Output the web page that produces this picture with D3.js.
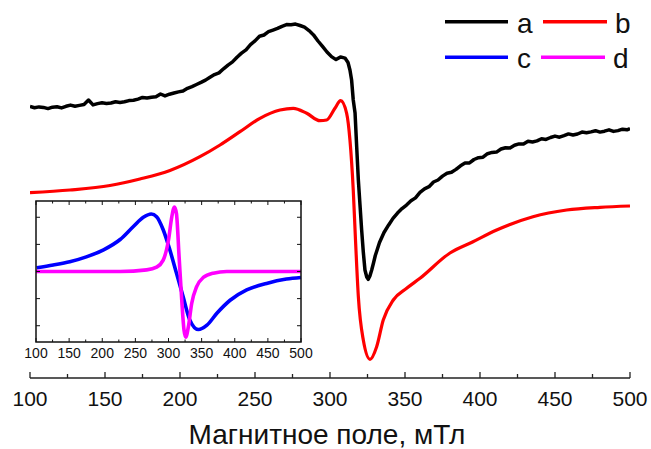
<!DOCTYPE html>
<html>
<head>
<meta charset="utf-8">
<script src="https://cdn.jsdelivr.net/npm/d3@7/dist/d3.min.js"></script>
<style>
  html, body { margin: 0; padding: 0; background: #fff; }
  svg { display: block; font-family: "Liberation Sans", Arial, sans-serif; }
</style>
</head>
<body>
<svg id="chart" width="651" height="449"></svg>
<script>
// Magnetic field (mT) and signal (arb. units) for the measured spectrum (a)
const fieldA = [100,103,106,109,112,115,118,121,124,127,130,133,136,139,142,145,148,151,154,157,160,163,166,169,172,175,178,181,184,187,190,193,196,199,202,205,208,211,214,217,220,223,226,229,232,235,238,241,244,247,250,253,256,259,262,265,268,271,274,277,280,283,286,289,292,295,298,301,304,307,310,312,313.3,314.4,315.5,316.7,317.8,318.9,320,321.1,322.2,323.3,324.5,325.5,326.6,327.8,329,330.2,331.4,333,336,339,342,345,348,351,354,357,360,363,366,369,372,375,378,381,384,387,390,393,396,399,402,405,408,411,414,417,420,423,426,429,432,435,438,441,444,447,450,453,456,459,462,465,468,471,474,477,480,483,486,489,492,495,498,500];
const signalA = [270.5,269.3,270.1,269.6,268.4,269.8,270.2,269.1,270.7,271.9,270.8,271.6,272.5,277.0,272.1,273.4,274.2,273.6,274.0,275.3,274.6,275.2,276.4,276.8,277.9,279.6,279.0,279.8,280.2,283.0,281.1,282.8,284.0,285.1,286.0,288.7,290.4,292.5,294.6,296.9,299.8,302.4,304.1,308.2,311.9,315.1,319.8,323.9,327.2,332.4,336.1,340.8,342.0,345.3,346.9,348.6,350.7,352.4,352.2,352.9,351.5,349.8,346.4,342.1,336.0,330.6,325.0,320.4,317.4,320.1,318.9,314.5,307,297,277,264,230,197,172,147,125,107,100,97.7,101,107,114,121.5,127,134.5,144.5,151.8,158.6,163.9,168.4,171.9,176.2,179.1,184.6,188.2,190.3,195.0,197.0,200.9,203.8,204.7,207.6,211.2,213.9,214.1,217.5,219.3,219.8,223.3,224.6,224.9,228.0,229.3,229.1,231.8,233.1,232.9,235.7,235.0,236.1,238.3,237.6,239.5,240.9,239.8,241.3,243.1,242.0,243.0,244.9,244.2,245.1,246.3,244.9,245.8,247.2,245.6,246.4,247.8,247.2,248.5];

// Simulated spectrum (b)
const fieldB = [100,126.7,153.3,173.3,193.3,213.3,226.7,240,253.3,266.7,275.5,284.5,293.3,297.8,303.3,307.1,311.1,313.3,315.5,317,318.9,322.2,326.7,331.1,335.5,342.2,351.1,360,380,395,411.1,435.3,457.8,480,500];
const signalB = [184.3,187,191.5,198,206.5,220.3,232,245.3,258.7,267,268.7,263.7,256.3,257,268.7,276.3,263.7,237,187,137,80.3,37,17.7,30.3,57,77,88.7,98.7,124,135,147,160.3,167,169.7,171];

// Components of the simulation: broad line (c) and narrow line (d)
const fieldC = [101,126,151,176,202,227,247,262,274,282,292,302,312,322,332,345,358,373,393,418,448,478,500];
const signalC = [0.07,0.12,0.18,0.27,0.40,0.59,0.83,1.00,1.06,1.01,0.77,0.40,-0.03,-0.46,-0.89,-1.07,-0.99,-0.77,-0.53,-0.34,-0.22,-0.14,-0.11];
const fieldD = [100,227,267,282,292,300,305,309,312,316,320,323.4,326,330,335,342.5,352.5,367.6,388,500];
const signalD = [0.0,0.0,0.03,0.08,0.21,0.58,1.01,1.19,1.07,0.27,-0.53,-1.08,-1.21,-1.02,-0.59,-0.28,-0.11,-0.03,0.0,0.0];

const xTicks = [100,150,200,250,300,350,400,450,500];
const legendLabels = ["a","b","c","d"];
const seriesColors = ["#000000","#ff0000","#0000ff","#ff00ff"];

const svg = d3.select("#chart");
const zip = (xs, ys) => xs.map((x, i) => [x, ys[i]]);

// ---------- main panel ----------
const x = d3.scaleLinear().domain([100, 500]).range([30, 630]);
const y = d3.scaleLinear().domain([0, 377]).range([377, 0]);

svg.append("defs").append("clipPath").attr("id", "mainClip")
  .append("rect").attr("x", 30).attr("y", 0).attr("width", 600).attr("height", 380);

const smoothLine = d3.line().x(d => x(d[0])).y(d => y(d[1])).curve(d3.curveMonotoneX);
const rawLine = d3.line().x(d => x(d[0])).y(d => y(d[1])).curve(d3.curveLinear);

const plot = svg.append("g").attr("clip-path", "url(#mainClip)");
plot.append("path").datum(zip(fieldB, signalB))
  .attr("d", smoothLine).attr("fill", "none")
  .attr("stroke", seriesColors[1]).attr("stroke-width", 3.2).attr("stroke-linejoin", "round");
plot.append("path").datum(zip(fieldA, signalA))
  .attr("d", rawLine).attr("fill", "none")
  .attr("stroke", seriesColors[0]).attr("stroke-width", 3.5).attr("stroke-linejoin", "round");

// bottom axis with inward ticks
const axisY = 378;
const xAxisG = svg.append("g").attr("transform", `translate(0,${axisY})`);
xAxisG.append("line").attr("x1", x(100)).attr("x2", x(500)).attr("stroke", "#222").attr("stroke-width", 1.5);
d3.range(100, 501, 25).forEach(v => {
  const major = v % 50 === 0;
  xAxisG.append("line").attr("x1", x(v)).attr("x2", x(v))
    .attr("y1", 0).attr("y2", major ? -6 : -4)
    .attr("stroke", "#222").attr("stroke-width", 1.3);
});
xAxisG.selectAll("text.tick").data(xTicks).join("text")
  .attr("class", "tick")
  .attr("x", d => x(d)).attr("y", 28)
  .attr("text-anchor", "middle").attr("font-size", 21).attr("fill", "#111")
  .text(d => d);

svg.append("text").attr("x", 327).attr("y", 444)
  .attr("text-anchor", "middle").attr("font-size", 28).attr("fill", "#111")
  .text("Магнитное поле, мТл");

// ---------- inset ----------
const ix = d3.scaleLinear().domain([100, 500]).range([36, 301]);
const iy = d3.scaleLinear().domain([-1.3, 1.3]).range([342, 201]);
const inset = svg.append("g");
inset.append("rect").attr("x", 36).attr("y", 201).attr("width", 265).attr("height", 141)
  .attr("fill", "#fff").attr("stroke", "none");

const insetLine = d3.line().x(d => ix(d[0])).y(d => iy(d[1])).curve(d3.curveMonotoneX);
inset.append("path").datum(zip(fieldC, signalC)).attr("d", insetLine)
  .attr("fill", "none").attr("stroke", seriesColors[2]).attr("stroke-width", 3.6);
inset.append("path").datum(zip(fieldD, signalD)).attr("d", insetLine)
  .attr("fill", "none").attr("stroke", seriesColors[3]).attr("stroke-width", 3.6);

inset.append("rect").attr("x", 36).attr("y", 201).attr("width", 265).attr("height", 141)
  .attr("fill", "none").attr("stroke", "#111").attr("stroke-width", 1.5);

d3.range(100, 501, 25).forEach(v => {
  const len = v % 50 === 0 ? 4 : 2.5;
  inset.append("line").attr("x1", ix(v)).attr("x2", ix(v)).attr("y1", 342).attr("y2", 342 - len)
    .attr("stroke", "#111").attr("stroke-width", 1);
  inset.append("line").attr("x1", ix(v)).attr("x2", ix(v)).attr("y1", 201).attr("y2", 201 + len)
    .attr("stroke", "#111").attr("stroke-width", 1);
});
[-1, -0.5, 0, 0.5, 1].forEach(v => {
  inset.append("line").attr("x1", 36).attr("x2", 40).attr("y1", iy(v)).attr("y2", iy(v))
    .attr("stroke", "#111").attr("stroke-width", 1);
  inset.append("line").attr("x1", 301).attr("x2", 297).attr("y1", iy(v)).attr("y2", iy(v))
    .attr("stroke", "#111").attr("stroke-width", 1);
});
inset.selectAll("text.itick").data(xTicks).join("text")
  .attr("class", "itick")
  .attr("x", d => ix(d)).attr("y", 358)
  .attr("text-anchor", "middle").attr("font-size", 14).attr("fill", "#111")
  .text(d => d);

// ---------- legend ----------
const legendItems = [
  { label: legendLabels[0], color: seriesColors[0], x1: 445, x2: 508, tx: 517, ly: 21.7, ty: 33 },
  { label: legendLabels[1], color: seriesColors[1], x1: 543, x2: 607, tx: 615, ly: 21.7, ty: 33 },
  { label: legendLabels[2], color: seriesColors[2], x1: 445, x2: 508, tx: 517, ly: 57.3, ty: 68 },
  { label: legendLabels[3], color: seriesColors[3], x1: 541, x2: 605, tx: 613, ly: 57.3, ty: 68 }
];
const lg = svg.append("g");
legendItems.forEach(it => {
  lg.append("line").attr("x1", it.x1).attr("x2", it.x2).attr("y1", it.ly).attr("y2", it.ly)
    .attr("stroke", it.color).attr("stroke-width", 3.5);
  lg.append("text").attr("x", it.tx).attr("y", it.ty).attr("font-size", 28).attr("fill", "#111")
    .text(it.label);
});
</script>
</body>
</html>
